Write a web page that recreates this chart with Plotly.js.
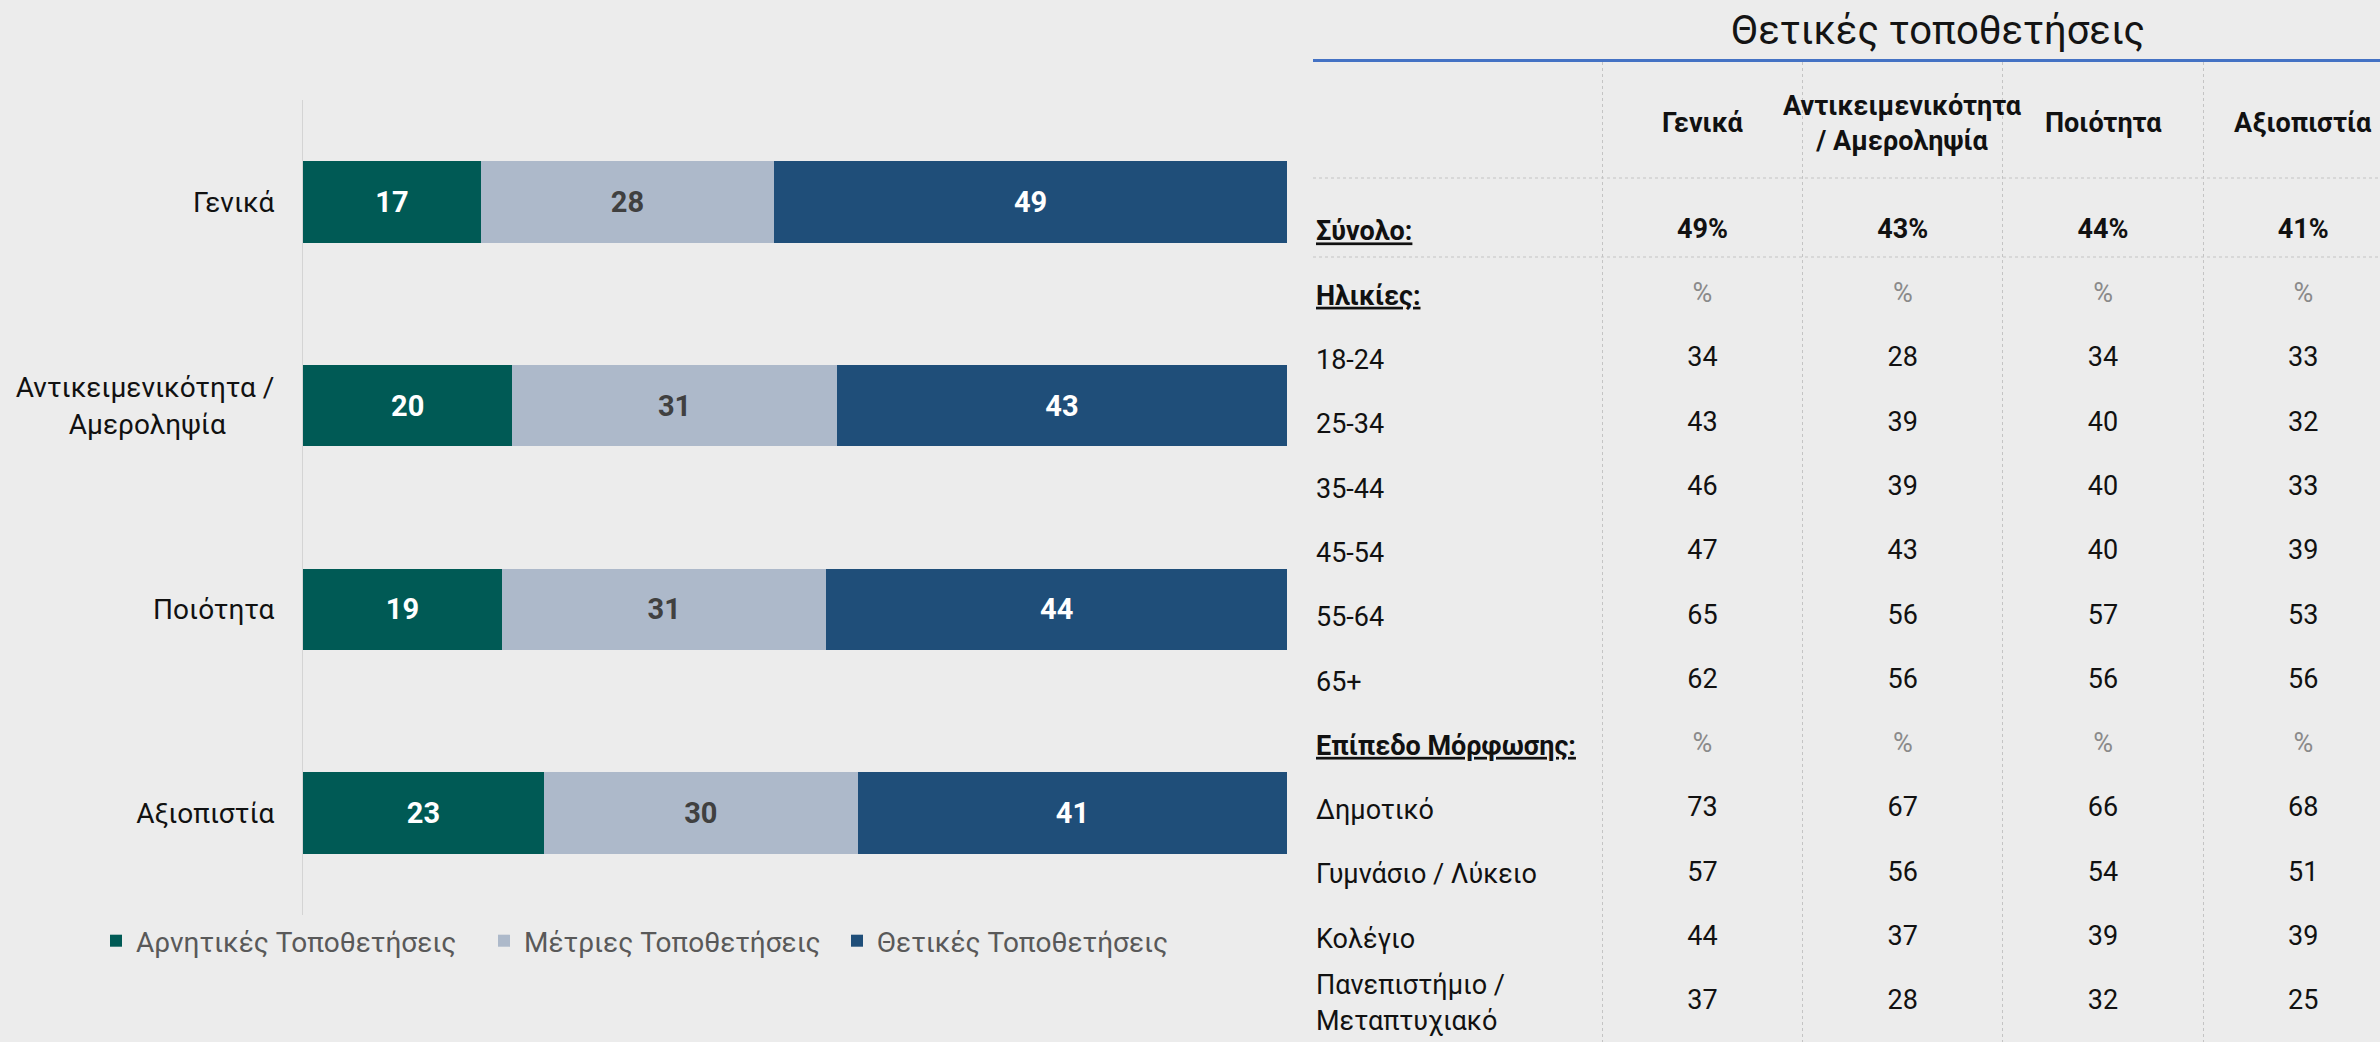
<!DOCTYPE html>
<html>
<head>
<meta charset="utf-8">
<script src="https://cdn.plot.ly/plotly-3.0.1.min.js"></script>
<style>
  html, body { margin: 0; padding: 0; background: #ececec; }
  #chart { width: 2380px; height: 1042px; }
</style>
</head>
<body>
<div id="chart"></div>
<script>
// ---------- Bar chart data ----------
const categories = ['Γενικά', 'Αντικειμενικότητα /<br>Αμεροληψία', 'Ποιότητα', 'Αξιοπιστία'];
const negativeVals = [17, 20, 19, 23];
const moderateVals = [28, 31, 31, 30];
const positiveVals = [49, 43, 44, 41];
const seriesNames = ['Αρνητικές Τοποθετήσεις', 'Μέτριες Τοποθετήσεις', 'Θετικές Τοποθετήσεις'];

// ---------- Table data ----------
const tableTitle = 'Θετικές τοποθετήσεις';
const tableColumns = ['Γενικά', 'Αντικειμενικότητα<br>/ Αμεροληψία', 'Ποιότητα', 'Αξιοπιστία'];
const totalLabel = 'Σύνολο:';
const totalPositive = [49, 43, 44, 41];
const ageLabel = 'Ηλικίες:';
const ageGroups = ['18-24', '25-34', '35-44', '45-54', '55-64', '65+'];
const ageGenika = [34, 43, 46, 47, 65, 62];
const ageObjectivity = [28, 39, 39, 43, 56, 56];
const ageQuality = [34, 40, 40, 40, 57, 56];
const ageCredibility = [33, 32, 33, 39, 53, 56];
const eduLabel = 'Επίπεδο Μόρφωσης:';
const eduGroups = ['Δημοτικό', 'Γυμνάσιο / Λύκειο', 'Κολέγιο', 'Πανεπιστήμιο /<br>Μεταπτυχιακό'];
const eduGenika = [73, 57, 44, 37];
const eduObjectivity = [67, 56, 37, 28];
const eduQuality = [66, 54, 39, 32];
const eduCredibility = [68, 51, 39, 25];

const ageCols = [ageGenika, ageObjectivity, ageQuality, ageCredibility];
const eduCols = [eduGenika, eduObjectivity, eduQuality, eduCredibility];

const FONT = 'Roboto, "Noto Sans", sans-serif';
const colors = ['#005a55', '#adb9ca', '#1f4e79'];
const textColors = ['#ffffff', '#404040', '#ffffff'];
const legendWidths = [343, 308, 320];
const seriesVals = [negativeVals, moderateVals, positiveVals];

const traces = [];
seriesVals.forEach((vals, i) => {
  traces.push({
    type: 'bar',
    orientation: 'h',
    name: seriesNames[i],
    y: categories,
    x: vals,
    text: vals.map(String),
    texttemplate: '<b>%{text}</b>',
    textposition: 'inside',
    insidetextanchor: 'middle',
    textangle: 0,
    constraintext: 'none',
    textfont: { family: FONT, size: 29, color: textColors[i] },
    marker: { color: colors[i], line: { width: 0 } },
    width: 0.4,
    legendwidth: legendWidths[i],
    hoverinfo: 'skip',
    xaxis: 'x',
    yaxis: 'y'
  });
});

// Table rows
const rows = [totalLabel, ageLabel].concat(ageGroups, [eduLabel], eduGroups);
const headerRows = [totalLabel, ageLabel, eduLabel];
const rowTickText = rows.map(r => headerRows.includes(r) ? '<b><u>' + r + '</u></b>' : r);

tableColumns.forEach((col, j) => {
  const texts = [];
  const tcolors = [];
  texts.push('<b>' + totalPositive[j] + '%</b>'); tcolors.push('#111111');
  texts.push('%'); tcolors.push('#8a8a8a');
  ageCols[j].forEach(v => { texts.push(String(v)); tcolors.push('#111111'); });
  texts.push('%'); tcolors.push('#8a8a8a');
  eduCols[j].forEach(v => { texts.push(String(v)); tcolors.push('#111111'); });
  traces.push({
    type: 'scatter',
    mode: 'text',
    x: rows.map(() => col),
    y: rows,
    text: texts,
    textposition: 'middle center',
    textfont: { family: FONT, size: 27, color: tcolors },
    showlegend: false,
    hoverinfo: 'skip',
    cliponaxis: false,
    xaxis: 'x2',
    yaxis: 'y2'
  });
});

const W = 2380, H = 1042;
const headerAnnotations = tableColumns.map((c, j) => ({
  x: j, xref: 'x2',
  y: 1 - 123 / H, yref: 'paper',
  text: '<b>' + c + '</b>',
  showarrow: false,
  xanchor: 'center', yanchor: 'middle',
  font: { family: FONT, size: 27, color: '#111111' }
}));

// category tick text: second line of the two-line label centred under the first
const NB = '\u00A0';
const catTickText = categories.map(c => c.includes('<br>') ? c + NB.repeat(7) : c);

const layout = {
  width: W, height: H,
  autosize: false,
  margin: { l: 0, r: 0, t: 0, b: 0 },
  paper_bgcolor: '#ececec',
  plot_bgcolor: 'rgba(0,0,0,0)',
  font: { family: FONT, color: '#111111' },
  barmode: 'stack',
  showlegend: true,
  title: {
    text: tableTitle,
    x: 1938 / W, xanchor: 'center',
    y: 1 - 30 / H, yanchor: 'middle',
    font: { family: FONT, size: 40, color: '#141414' }
  },
  legend: {
    orientation: 'h',
    x: 96 / W, xanchor: 'left',
    y: 1 - 941 / H, yanchor: 'middle',
    font: { family: FONT, size: 28, color: '#595959' },
    bgcolor: 'rgba(0,0,0,0)',
    traceorder: 'normal'
  },
  xaxis: {
    domain: [303 / W, 1287 / W],
    range: [0, 94],
    visible: false,
    fixedrange: true
  },
  yaxis: {
    domain: [1 - 915 / H, 1 - 100 / H],
    type: 'category',
    range: [3.5, -0.5],
    tickvals: categories,
    ticktext: catTickText,
    showline: true,
    linecolor: '#d4d4d4',
    linewidth: 1,
    showgrid: false,
    zeroline: false,
    ticks: 'outside',
    ticklen: 22,
    tickcolor: 'rgba(0,0,0,0)',
    tickfont: { family: FONT, size: 28, color: '#111111' }
  },
  xaxis2: {
    domain: [1313 / W, 1],
    type: 'category',
    anchor: 'y2',
    side: 'top',
    range: [-1.945, 3.383],
    showticklabels: false,
    showline: true,
    linecolor: '#4472c4',
    linewidth: 3,
    showgrid: true,
    tickson: 'boundaries',
    gridcolor: '#c4c4c4',
    griddash: 'dot',
    gridwidth: 1,
    zeroline: false,
    ticks: ''
  },
  yaxis2: {
    domain: [0, 1 - 62 / H],
    type: 'category',
    anchor: 'x2',
    range: [12.613, -2.628],
    tickvals: rows,
    ticktext: rowTickText,
    ticklabelposition: 'inside',
    tickfont: { family: FONT, size: 27, color: '#111111' },
    showgrid: false,
    showline: false,
    zeroline: false,
    ticks: ''
  },
  shapes: [178, 257].map(py => ({
    type: 'line', xref: 'x2 domain', x0: 0, x1: 1,
    yref: 'paper', y0: 1 - py / H, y1: 1 - py / H,
    line: { color: '#c4c4c4', width: 1, dash: 'dot' }
  })),
  annotations: headerAnnotations
};

Plotly.newPlot('chart', traces, layout, { displayModeBar: false, staticPlot: true });
</script>
</body>
</html>
